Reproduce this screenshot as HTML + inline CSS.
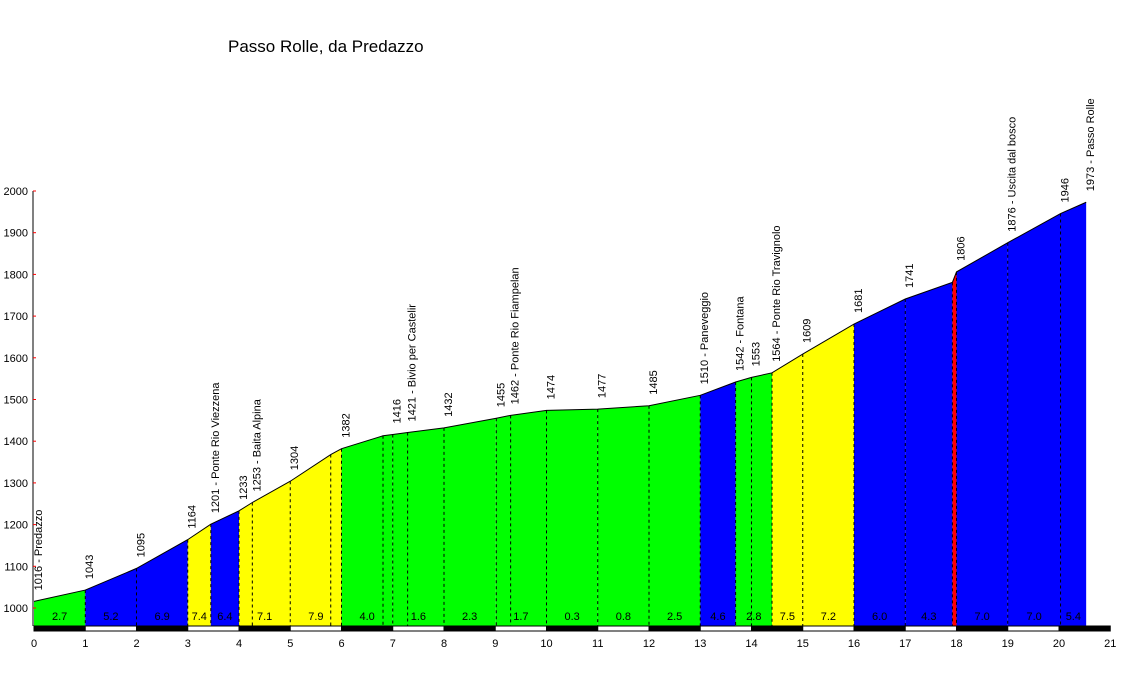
<!DOCTYPE html>
<html><head><meta charset="utf-8"><style>
body{margin:0;background:#fff;width:1137px;height:673px;overflow:hidden}
svg{font-family:"Liberation Sans",Arial,sans-serif}
</style></head><body>
<svg id="chart" width="1137" height="673" viewBox="0 0 1137 673" xmlns="http://www.w3.org/2000/svg">
<text x="228" y="52" font-size="17">Passo Rolle, da Predazzo</text>
</svg>
<script>
const kms   = [0,1,2,3,3.45,4,4.26,5,5.79,6,6.81,7,7.29,8,9.02,9.3,10,11,12,13,13.69,14,14.4,15,16,17,17.92,18,19,20.03,20.53];
const elevs = [1016,1043,1095,1164,1201,1233,1253,1304,1368,1382,1413,1416,1421,1432,1455,1462,1474,1477,1485,1510,1542,1553,1564,1609,1681,1741,1781,1806,1876,1946,1973];
const names = ["Predazzo","","","","Ponte Rio Viezzena","","Baita Alpina","","","","","","Bivio per Castelir","","","Ponte Rio Fiampelan","","","","Paneveggio","Fontana","","Ponte Rio Travignolo","","","","","","Uscita dal bosco","","Passo Rolle"];
const showLabel = [1,1,1,1,1,1,1,1,0,1,0,1,1,1,1,1,1,1,1,1,1,1,1,1,1,1,0,1,1,1,1];
const segFrom  = [0,1,2,3,3.45,4,5,6,7,8,9,10,11,12,13,13.69,14.4,15,16,17,17.92,18,19,20.03];
const segTo    = [1,2,3,3.45,4,5,6,7,8,9,10,11,12,13,13.69,14.4,15,16,17,17.92,18,19,20.03,20.53];
const segGrade = [2.7,5.2,6.9,7.4,6.4,7.1,7.9,4.0,1.6,2.3,1.7,0.3,0.8,2.5,4.6,2.8,7.5,7.2,6.0,4.3,31,7.0,7.0,5.4];
const xTicks = [0,1,2,3,4,5,6,7,8,9,10,11,12,13,14,15,16,17,18,19,20,21];
const yTicks = [1000,1100,1200,1300,1400,1500,1600,1700,1800,1900,2000];

const NS="http://www.w3.org/2000/svg";
const svg=document.getElementById('chart');
const X=k=>34+k*51.25;
const Y=e=>608-(e-1000)*0.417;
const BASE=626;
function mk(t,a){const e=document.createElementNS(NS,t);for(const k in a)e.setAttribute(k,a[k]);svg.appendChild(e);return e;}
function elevAt(k){for(let i=0;i<kms.length-1;i++){if(k>=kms[i]&&k<=kms[i+1]){return elevs[i]+(elevs[i+1]-elevs[i])*(k-kms[i])/(kms[i+1]-kms[i]);}}return elevs[elevs.length-1];}
function colorFor(g){if(g>8)return '#ff0000';if(g>7.05)return '#ffff00';if(g>4.05)return '#0000ff';return '#00ff00';}

// fills
for(let s=0;s<segFrom.length;s++){
  const a=segFrom[s],b=segTo[s];
  let pts=[[X(a),BASE],[X(a),Y(elevAt(a))]];
  for(let i=0;i<kms.length;i++){if(kms[i]>a&&kms[i]<b)pts.push([X(kms[i]),Y(elevs[i])]);}
  pts.push([X(b),Y(elevAt(b))],[X(b),BASE]);
  const p=mk('polygon',{points:pts.map(q=>q.join(',')).join(' '),fill:colorFor(segGrade[s]),stroke:'none'});
  
  
}
// dashed lines
for(let i=1;i<kms.length-1;i++){
  const l=mk('line',{x1:X(kms[i]),x2:X(kms[i]),y1:Y(elevs[i]),y2:BASE,stroke:'#000','stroke-dasharray':'3,3','stroke-width':1});
  
  
}
// profile outline
const pl=mk('polyline',{points:kms.map((k,i)=>X(k)+','+Y(elevs[i])).join(' '),fill:'none',stroke:'#000','stroke-width':1});


// grade labels
for(let s=0;s<segFrom.length;s++){
  if(segGrade[s]>8)continue;
  const t=mk('text',{x:X((segFrom[s]+segTo[s])/2),y:620,'font-size':11,'text-anchor':'middle',fill:'#000'});
  t.textContent=segGrade[s].toFixed(1);
  
  
}
// waypoint labels
for(let i=0;i<kms.length;i++){
  if(!showLabel[i])continue;
  const x=X(kms[i])+8,y=Y(elevs[i])-11;
  const t=mk('text',{x:x,y:y,'font-size':11,transform:`rotate(-90 ${x} ${y})`,fill:'#000'});
  t.textContent=elevs[i]+(names[i]?' - '+names[i]:'');
  
  
}
// bottom km bar
for(let k=0;k<21;k++){
  const r=mk('rect',{x:X(k),y:BASE,width:51.25,height:5,fill:k%2?'#fff':'#000',stroke:'#000','stroke-width':1});
  
  
}
// x ticks
xTicks.forEach(k=>{
  const t=mk('text',{x:X(k),y:647,'font-size':11,'text-anchor':'middle'});
  t.textContent=k;
  
  
});
// y axis
const ax=mk('line',{x1:33,x2:33,y1:Y(2000),y2:BASE,stroke:'#000','stroke-width':1});


yTicks.forEach(v=>{
  const tk=mk('line',{x1:33,x2:36,y1:Y(v),y2:Y(v),stroke:'#ff0000','stroke-width':1});
  
  
  const t=mk('text',{x:28,y:Y(v)+4,'font-size':11,'text-anchor':'end'});
  t.textContent=v;
  
  
});
</script>
</body></html>
